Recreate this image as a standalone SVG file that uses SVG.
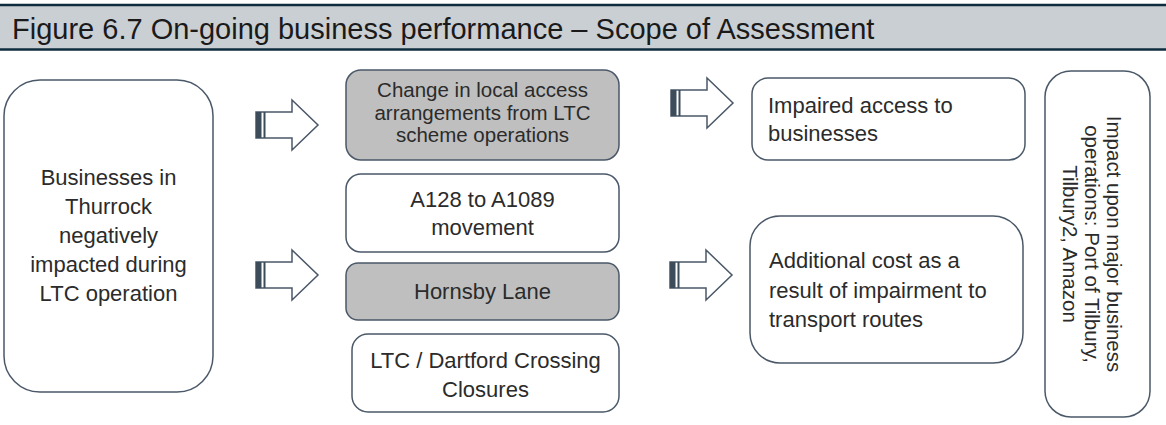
<svg xmlns="http://www.w3.org/2000/svg" xmlns:xlink="http://www.w3.org/1999/xlink" width="1166" height="425" viewBox="0 0 1166 425">
<style>
.box{fill:#ffffff;stroke:#4a5868;stroke-width:1.5}
.grey{fill:#bfbfbf}
.t{font-family:"Liberation Sans",Arial,sans-serif;font-size:22px;fill:#2b2b2b}
.tc{text-anchor:middle}
.title{font-family:"Liberation Sans",Arial,sans-serif;font-size:29px;fill:#1a1a1a}
</style>
<defs>
<g id="arrow">
<path d="M0,-13 H36 V-25 L62,0 L36,25 V13 H0 Z" fill="#ffffff" stroke="#4a5868" stroke-width="1.5" stroke-linejoin="miter"/>
<rect x="0" y="-13" width="5.5" height="26" fill="#3d4c5a"/>
<rect x="7.5" y="-13" width="2" height="26" fill="#3d4c5a"/>
</g>
</defs>
<g id="title-bar">
<rect x="0" y="5" width="1166" height="44" fill="#cacfd3"/>
<line x1="0" y1="5" x2="1166" y2="5" stroke="#0f2c3f" stroke-width="2.4"/>
<line x1="0" y1="49.5" x2="1166" y2="49.5" stroke="#0f2c3f" stroke-width="2.4"/>
<text class="title" x="12" y="39">Figure 6.7 On-going business performance – Scope of Assessment</text>
</g>
<g id="connectors">
<use xlink:href="#arrow" href="#arrow" transform="translate(256,125)"/>
<use xlink:href="#arrow" href="#arrow" transform="translate(256,275)"/>
<use xlink:href="#arrow" href="#arrow" transform="translate(671,103)"/>
<use xlink:href="#arrow" href="#arrow" transform="translate(670,275)"/>
</g>
<g id="node-businesses">
<rect class="box" x="4" y="80" width="209" height="312" rx="36"/>
<text class="t tc" x="108.5" y="185">Businesses in</text>
<text class="t tc" x="108.5" y="214">Thurrock</text>
<text class="t tc" x="108.5" y="243">negatively</text>
<text class="t tc" x="108.5" y="272">impacted during</text>
<text class="t tc" x="108.5" y="301">LTC operation</text>
</g>
<g id="node-change-access">
<rect class="box grey" x="346" y="70" width="273" height="90" rx="15"/>
<text class="t tc" x="482.5" y="97" style="font-size:20.5px">Change in local access</text>
<text class="t tc" x="482.5" y="119.5" style="font-size:20.5px">arrangements from LTC</text>
<text class="t tc" x="482.5" y="142" style="font-size:20.5px">scheme operations</text>
</g>
<g id="node-a128">
<rect class="box" x="346" y="174" width="273" height="78" rx="15"/>
<text class="t tc" x="482.5" y="207">A128 to A1089</text>
<text class="t tc" x="482.5" y="235">movement</text>
</g>
<g id="node-hornsby">
<rect class="box grey" x="346" y="263" width="273" height="57" rx="12"/>
<text class="t tc" x="482.5" y="299">Hornsby Lane</text>
</g>
<g id="node-closures">
<rect class="box" x="352" y="334" width="267" height="78" rx="16"/>
<text class="t tc" x="485.5" y="368">LTC / Dartford Crossing</text>
<text class="t tc" x="485.5" y="397">Closures</text>
</g>
<g id="node-impaired-access">
<rect class="box" x="752" y="78" width="273" height="82" rx="16"/>
<text class="t" x="768" y="113">Impaired access to</text>
<text class="t" x="768" y="141">businesses</text>
</g>
<g id="node-additional-cost">
<rect class="box" x="750" y="216" width="273" height="147" rx="30"/>
<text class="t" x="769" y="268">Additional cost as a</text>
<text class="t" x="769" y="298">result of impairment to</text>
<text class="t" x="769" y="327">transport routes</text>
</g>
<g id="node-major-business">
<rect class="box" x="1045" y="71" width="105" height="346" rx="26"/>
<text class="t tc" style="font-size:20.5px" transform="translate(1107,244) rotate(90)"><tspan x="0" dy="0">Impact upon major business</tspan><tspan x="0" dy="22">operations: Port of Tilbury,</tspan><tspan x="0" dy="22">Tilbury2, Amazon</tspan></text>
</g>
</svg>
